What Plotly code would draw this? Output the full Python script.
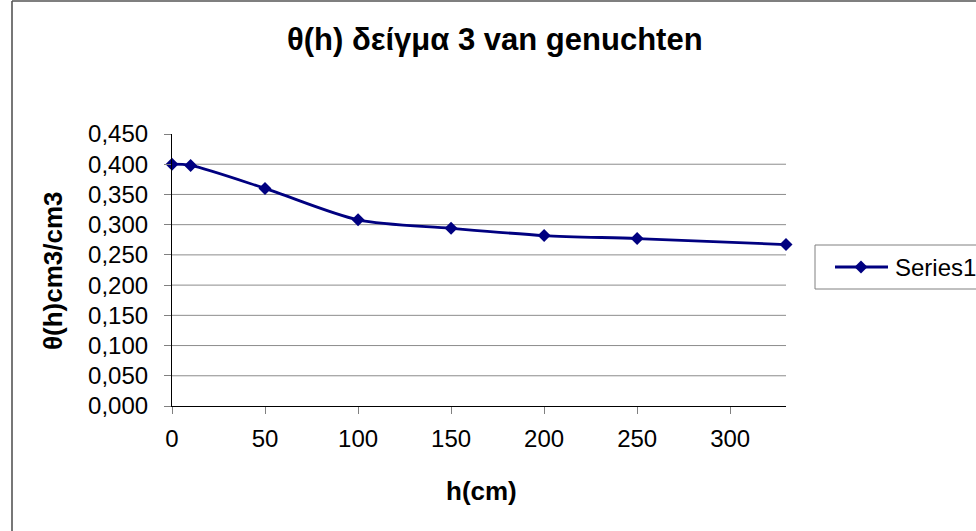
import plotly.graph_objects as go

# Water retention data, sample 3 (van Genuchten)
h_cm = [0, 10, 50, 100, 150, 200, 250, 330]
theta = [0.400, 0.398, 0.360, 0.308, 0.294, 0.282, 0.277, 0.267]
series_name = "Series1"

title_text = "θ(h) δείγμα 3 van genuchten"
x_title = "h(cm)"
y_title = "θ(h)cm3/cm3"
x_ticks = [0, 50, 100, 150, 200, 250, 300]
y_ticks = [0.0, 0.05, 0.10, 0.15, 0.20, 0.25, 0.30, 0.35, 0.40, 0.45]

W, H = 976, 531
L, R, T, B = 172, 190, 134, 125
PW, PH = W - L - R, H - T - B

NAVY = "#000080"
FONT = "Liberation Sans, Arial, sans-serif"


def px(x):
    return (x - L) / PW


def py(y):
    return (H - B - y) / PH


fig = go.Figure()
fig.add_trace(go.Scatter(
    x=h_cm, y=theta, name=series_name, mode="lines+markers",
    line=dict(color=NAVY, width=2.8, shape="spline", smoothing=0.8),
    marker=dict(symbol="diamond", size=10, color=NAVY),
    cliponaxis=False, showlegend=False,
))

# horizontal gridlines between the axis line and the top of the plot
shapes = [
    dict(type="line", xref="paper", yref="y", x0=0, x1=1, y0=v, y1=v,
         line=dict(color="#8c8c8c", width=1), layer="below")
    for v in y_ticks[1:-1]
]

shapes += [
    # chart-area frame
    dict(type="line", xref="paper", yref="paper", x0=px(12), x1=px(12),
         y0=py(1), y1=py(H + 20), line=dict(color="#555555", width=1.6)),
    dict(type="line", xref="paper", yref="paper", x0=px(12), x1=px(W + 20),
         y0=py(1), y1=py(1), line=dict(color="#555555", width=1.6)),
    # legend box
    dict(type="rect", xref="paper", yref="paper", x0=px(815), x1=px(W + 20),
         y0=py(245), y1=py(289), line=dict(color="#808080", width=1),
         fillcolor="white"),
    dict(type="line", xref="paper", yref="paper", x0=px(835), x1=px(888),
         y0=py(267), y1=py(267), line=dict(color=NAVY, width=2.8)),
    dict(type="path", xref="paper", yref="paper", xsizemode="pixel",
         ysizemode="pixel", xanchor=px(861), yanchor=py(267),
         path="M -6.5 0 L 0 6.5 L 6.5 0 L 0 -6.5 Z",
         fillcolor=NAVY, line=dict(color=NAVY, width=0)),
]

annotations = [
    dict(text=title_text, x=px(494.5), y=py(40), xref="paper", yref="paper",
         showarrow=False, xanchor="center", yanchor="middle",
         font=dict(family=FONT, size=31, color="black", weight="bold")),
    dict(text=x_title, x=px(481), y=py(491), xref="paper", yref="paper",
         showarrow=False, xanchor="center", yanchor="middle",
         font=dict(family=FONT, size=26, color="black", weight="bold")),
    dict(text=y_title, x=px(53), y=py(271), xref="paper", yref="paper",
         showarrow=False, xanchor="center", yanchor="middle", textangle=-90,
         font=dict(family=FONT, size=26, color="black", weight="bold")),
    dict(text=series_name, x=px(893), y=py(267), xref="paper", yref="paper",
         showarrow=False, xanchor="left", yanchor="middle",
         font=dict(family=FONT, size=24, color="black")),
]

fig.update_layout(
    width=W, height=H,
    margin=dict(l=L, r=R, t=T, b=B, pad=0),
    paper_bgcolor="white", plot_bgcolor="white",
    separators=", ",
    font=dict(family=FONT, size=24, color="black"),
    shapes=shapes, annotations=annotations,
    showlegend=False,
)
fig.update_xaxes(
    range=[0, 330], tickvals=x_ticks, showgrid=False, zeroline=False,
    showline=True, linecolor="black", linewidth=1.2,
    ticks="outside", ticklen=7, tickcolor="#808080", tickwidth=1.2,
    ticklabelstandoff=4,
    tickfont=dict(family=FONT, size=24, color="black"),
)
fig.update_yaxes(
    range=[0, 0.45], tickvals=y_ticks, tickformat=".3f",
    showgrid=False, zeroline=False,
    showline=True, linecolor="black", linewidth=1.2,
    ticks="outside", ticklen=7, tickcolor="#808080", tickwidth=1.2,
    ticklabelstandoff=11,
    tickfont=dict(family=FONT, size=24, color="black"),
)

fig.write_html("out.html")
